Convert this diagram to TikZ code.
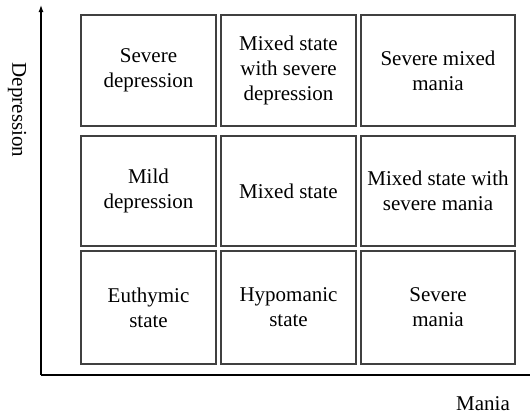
\documentclass[tikz,border=0pt]{standalone}
\usepackage{fontspec}
\setmainfont{Liberation Serif}
\usetikzlibrary{arrows.meta}
\begin{document}
\begin{tikzpicture}[x=1pt,y=-1pt,
  cell/.style={draw=black!75, line width=1.3pt, inner sep=0pt, align=center,
    font=\fontsize{21}{25}\selectfont},
  axis/.style={draw=black, line width=1.2pt},
  axlabel/.style={font=\fontsize{21}{25}\selectfont, inner sep=0pt}]
\useasboundingbox (0,0) rectangle (530,415);
% grid of states: columns by mania, rows by depression
\node[cell, minimum width=135pt, minimum height=111pt] (c11) at (148.5,70.5) {Severe\\depression};
\node[cell, minimum width=135pt, minimum height=111pt] (c12) at (288.5,70.5) {Mixed state\\with severe\\depression};
\node[cell, minimum width=154pt, minimum height=111pt] (c13) at (438,70.5) {Severe mixed\\mania};
\node[cell, minimum width=135pt, minimum height=110pt] (c21) at (148.5,191) {Mild\\depression};
\node[cell, minimum width=135pt, minimum height=110pt] (c22) at (288.5,191) {Mixed state};
\node[cell, minimum width=154pt, minimum height=110pt] (c23) at (438,191) {Mixed state with\\severe mania};
\node[cell, minimum width=135pt, minimum height=113pt] (c31) at (148.5,307.5) {Euthymic\\state};
\node[cell, minimum width=135pt, minimum height=113pt] (c32) at (288.5,307.5) {Hypomanic\\state};
\node[cell, minimum width=154pt, minimum height=113pt] (c33) at (438,307.5) {Severe\\mania};
% axes
\coordinate (origin) at (41,375);
\coordinate (ytop) at (41,5);
\coordinate (xend) at (530,375);
\draw[axis, -{Latex[length=7pt,width=5pt]}] (origin) -- (ytop);
\draw[axis] (origin) -- (xend);
\node[axlabel, rotate=-90] (ylab) at (17,110) {Depression};
\node[axlabel] (xlab) at (483,404) {Mania};
\end{tikzpicture}
\end{document}
